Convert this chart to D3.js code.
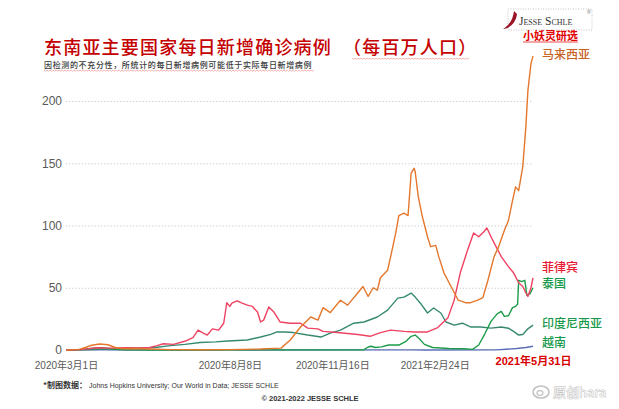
<!DOCTYPE html>
<html><head><meta charset="utf-8">
<script src="https://cdn.jsdelivr.net/npm/d3@7"></script>
<style>body{margin:0;background:#fff}svg{display:block}</style>
</head><body>
<svg id="c" width="619" height="409"></svg>
<script>
// ---------- DATA ----------
const seriesNames = ["越南", "印度尼西亚", "泰国", "菲律宾", "马来西亚"];

const malaysia = [
["2020-03-01",0],["2020-03-13",0.3],["2020-03-20",2],["2020-03-26",3.8],["2020-04-03",4.8],
["2020-04-11",4.2],["2020-04-18",2],["2020-04-25",1],["2020-05-07",1.2],["2020-05-22",0.8],
["2020-06-11",0.3],["2020-07-10",0.2],["2020-08-08",0.3],["2020-09-07",0.8],["2020-09-27",1.5],
["2020-10-06",8],["2020-10-16",18.5],["2020-10-26",26.5],["2020-11-02",24],["2020-11-07",34],
["2020-11-14",30],["2020-11-24",40],["2020-12-01",36],["2020-12-11",46],["2020-12-16",51],
["2020-12-21",43],["2020-12-26",50],["2020-12-30",48],["2021-01-02",58],["2021-01-09",64],
["2021-01-12",75],["2021-01-17",94],["2021-01-20",108],["2021-01-25",110],["2021-01-29",108],
["2021-02-01",142],["2021-02-04",146],["2021-02-05",143],["2021-02-08",123],["2021-02-12",107],
["2021-02-17",91],["2021-02-20",83],["2021-02-25",84],["2021-02-28",75],["2021-03-05",62],
["2021-03-12",51],["2021-03-19",40],["2021-03-26",38],["2021-03-31",38],["2021-04-07",40],
["2021-04-12",42],["2021-04-17",56],["2021-04-23",75],["2021-04-27",82],["2021-05-03",96],
["2021-05-07",104],["2021-05-11",120],["2021-05-14",131],["2021-05-17",128],["2021-05-21",147],
["2021-05-24",179],["2021-05-26",208],["2021-05-29",230],["2021-05-31",236]
];

const philippines = [
["2020-03-01",0],["2020-03-15",0.3],["2020-03-31",1.8],["2020-04-13",1.5],["2020-04-28",1.8],
["2020-05-12",1.6],["2020-05-22",2],["2020-05-29",3.5],["2020-06-04",5],["2020-06-14",4.5],
["2020-06-25",7],["2020-07-03",10],["2020-07-08",16],["2020-07-13",13.6],["2020-07-17",12],
["2020-07-22",17],["2020-07-28",16],["2020-08-02",21.5],["2020-08-05",38],["2020-08-08",35],
["2020-08-10",37.6],["2020-08-15",39.5],["2020-08-20",37.6],["2020-08-25",36],["2020-08-30",35],
["2020-09-04",30.5],["2020-09-07",22.5],["2020-09-10",24],["2020-09-15",34.5],["2020-09-20",30.5],
["2020-09-26",22.5],["2020-10-06",21.5],["2020-10-16",21.5],["2020-10-23",17.6],["2020-11-02",17],
["2020-11-07",15],["2020-11-21",14],["2020-12-11",12.5],["2020-12-23",11],["2021-01-02",14],
["2021-01-12",16],["2021-01-25",15],["2021-02-04",14.5],["2021-02-17",14.5],["2021-02-27",18],
["2021-03-09",26],["2021-03-15",40],["2021-03-21",62],["2021-03-28",80],["2021-04-03",94],
["2021-04-08",91],["2021-04-13",95],["2021-04-16",98],["2021-04-20",91],["2021-04-23",86],
["2021-04-30",75],["2021-05-07",67],["2021-05-12",62],["2021-05-17",54],["2021-05-21",51],
["2021-05-24",46],["2021-05-26",43],["2021-05-29",50],["2021-05-31",58]
];

const indonesia = [
["2020-03-01",0],["2020-03-15",0.1],["2020-04-03",0.5],["2020-04-23",1],["2020-05-12",1.5],
["2020-05-29",2.2],["2020-06-11",3.5],["2020-06-25",4.5],["2020-07-10",6],["2020-07-25",6.5],
["2020-08-06",7.2],["2020-08-25",8],["2020-09-07",10.4],["2020-09-17",12.5],["2020-09-23",14.5],
["2020-10-01",14.5],["2020-10-09",14],["2020-10-23",12],["2020-11-05",10.4],["2020-11-14",13.6],
["2020-11-24",16],["2020-12-07",21.5],["2020-12-17",22.5],["2020-12-30",26.5],["2021-01-09",32],
["2021-01-19",41.7],["2021-01-25",42.5],["2021-02-01",45.7],["2021-02-05",42.5],["2021-02-10",37.6],
["2021-02-17",29.7],["2021-02-23",33.7],["2021-03-02",29.7],["2021-03-07",22.5],["2021-03-15",20],
["2021-03-23",21.5],["2021-03-31",18.5],["2021-04-10",18.5],["2021-04-20",17.6],["2021-04-30",18.5],
["2021-05-07",17.5],["2021-05-12",15],["2021-05-17",12],["2021-05-21",12.5],["2021-05-26",17],
["2021-05-31",20]
];

const thailand = [
["2020-03-01",0],["2020-03-15",0.3],["2020-03-28",1.5],["2020-04-05",1.8],["2020-04-15",0.8],
["2020-04-28",0.1],["2020-06-09",0.05],["2020-12-15",0.1],["2020-12-17",0.3],["2020-12-21",2.4],
["2020-12-24",3],["2020-12-28",2],["2021-01-03",2.5],["2021-01-10",4],["2021-01-20",4],
["2021-01-27",7],["2021-02-01",11],["2021-02-05",12],["2021-02-09",9],["2021-02-14",4.5],
["2021-02-22",2],["2021-03-10",1.2],["2021-03-25",1],["2021-04-02",0.5],["2021-04-08",4],
["2021-04-14",13],["2021-04-20",23],["2021-04-26",29],["2021-04-30",31],["2021-05-03",27],
["2021-05-07",27.5],["2021-05-11",34],["2021-05-14",35],["2021-05-16",37],["2021-05-17",56],
["2021-05-20",55],["2021-05-23",56],["2021-05-25",44],["2021-05-28",45],["2021-05-31",50]
];

const vietnam = [
["2020-03-01",0],["2020-03-25",0.2],["2020-04-10",0.1],["2020-05-01",0],["2020-07-25",0.05],
["2020-08-05",0.1],["2020-08-20",0.05],["2021-01-30",0.1],["2021-02-15",0.05],["2021-04-25",0.1],
["2021-05-05",0.6],["2021-05-15",1.2],["2021-05-24",2],["2021-05-31",3]
];

const xTickDates = ["2020-03-01","2020-08-08","2020-11-16","2021-02-24","2021-05-31"];
const xTickLabels = ["2020年3月1日","2020年8月8日","2020年11月16日","2021年2月24日","2021年5月31日"];
const yTicks = [0, 50, 100, 150, 200];
const gridTicks = [50, 100, 150, 200];

// ---------- DRAWING ----------
const parse = d3.timeParse("%Y-%m-%d");
const svg = d3.select("#c");
const sans = "'Liberation Sans', Arial, 'Noto Sans CJK SC', sans-serif";
const cjk = "'Noto Sans CJK SC', sans-serif";

const x = d3.scaleTime().domain([parse("2020-03-01"), parse("2021-05-31")]).range([66, 533]);
const y = d3.scaleLinear().domain([0, 200]).range([350, 101]);

// gridlines
const grid = svg.append("g").attr("transform", "translate(66,0)")
  .call(d3.axisLeft(y).tickValues(gridTicks).tickSize(-467).tickFormat(""));
grid.select(".domain").remove();
grid.selectAll("line").attr("stroke", "#c8c8c8").attr("stroke-dasharray", "1.2,2").attr("stroke-width", 1);

// y axis labels
const ya = svg.append("g").attr("transform", "translate(66,0)")
  .call(d3.axisLeft(y).tickValues(yTicks).tickSize(0).tickPadding(4));
ya.select(".domain").remove();
ya.selectAll("text").attr("fill", "#595959").style("font-family", sans).style("font-size", "12px");

// x axis labels
const xa = svg.append("g").attr("transform", "translate(0,350)")
  .call(d3.axisBottom(x).tickValues(xTickDates.map(parse)).tickSize(0).tickPadding(12)
    .tickFormat((d, i) => xTickLabels[i]));
xa.select(".domain").remove();
xa.selectAll("text").attr("fill", "#595959").style("font-family", sans).style("font-size", "10px");
xa.selectAll("text").filter((d, i) => i === xTickLabels.length - 1)
  .attr("fill", "#d90000").style("font-size", "11px").style("font-weight", "bold").attr("y", 7);

// lines
const line = d3.line().x(d => x(parse(d[0]))).y(d => y(d[1]));
const seriesData = [vietnam, indonesia, thailand, philippines, malaysia];
const colors = ["#5a6db5", "#36896f", "#1c9c4a", "#ee4262", "#e5772c"];
svg.append("g").selectAll("path").data(seriesData).join("path")
  .attr("d", line).attr("fill", "none")
  .attr("stroke", (d, i) => colors[i]).attr("stroke-width", 1.4).attr("stroke-linejoin", "round");

// right-side labels
const labelColors = ["#16994a", "#16994a", "#16994a", "#e81a33", "#c7621f"];
const labelY = [347, 328, 288, 272, 59];
svg.append("g").selectAll("text").data(seriesNames).join("text")
  .attr("x", 542).attr("y", (d, i) => labelY[i])
  .attr("fill", (d, i) => labelColors[i])
  .style("font-family", cjk).style("font-size", "12px").style("font-weight", 500)
  .text(d => d);

// title
svg.append("text").attr("x", 44).attr("y", 54).attr("fill", "#c40000")
  .style("font-family", cjk).style("font-size", "18px").style("font-weight", 500).style("letter-spacing", "1.2px")
  .text("东南亚主要国家每日新增确诊病例");
svg.append("text").attr("x", 343).attr("y", 54).attr("fill", "#c40000")
  .style("font-family", cjk).style("font-size", "18px").style("font-weight", 500).style("letter-spacing", "1.2px")
  .text("（每百万人口）");
svg.append("text").attr("x", 44).attr("y", 68).attr("fill", "#3a3a3a")
  .style("font-family", cjk).style("font-size", "8px").style("font-weight", 500).style("letter-spacing", "0.65px")
  .text("因检测的不充分性，所统计的每日新增病例可能低于实际每日新增病例");

// wavy spell-check underlines
function wavy(x0, x1, yy) {
  let p = `M${x0},${yy}`;
  for (let xx = x0, k = 0; xx < x1; xx += 1.5, k++) p += `L${xx + 1.5},${yy + (k % 2 ? 0 : 1.2)}`;
  svg.append("path").attr("d", p).attr("fill", "none").attr("stroke", "#f08080").attr("stroke-width", 0.6);
}
wavy(44, 313, 70);
wavy(352, 468, 58);

// logo
svg.append("rect").attr("x", 508).attr("y", 9).attr("width", 84).attr("height", 21)
  .attr("fill", "none").attr("stroke", "#9a9a9a").attr("stroke-width", 0.6).attr("stroke-dasharray", "1,1.5");
svg.append("path").attr("d", "M514,11 C513,18 511,24 503,29 C511,28 516,22 517,14 Z").attr("fill", "#9b1426");
svg.append("text").attr("x", 519).attr("y", 24.5).attr("fill", "#333")
  .style("font-family", "'Liberation Serif', 'DejaVu Serif', serif")
  .style("font-size", "11.5px").style("font-variant", "small-caps").text("Jesse Schle");
svg.append("text").attr("x", 587).attr("y", 14).attr("fill", "#666").style("font-size", "5px").style("font-family", sans).text("®");
svg.append("text").attr("x", 523).attr("y", 40).attr("fill", "#e00000")
  .style("font-family", cjk).style("font-size", "11px").style("font-weight", "bold").text("小妖灵研选");
svg.append("line").attr("x1", 523).attr("x2", 578).attr("y1", 42).attr("y2", 42).attr("stroke", "#e00000").attr("stroke-width", 0.7);

// footer
const ft = svg.append("text").attr("x", 43).attr("y", 388).attr("fill", "#333");
ft.append("tspan").style("font-family", cjk).style("font-size", "8px").style("font-weight", "bold").text("*制图数据：");
ft.append("tspan").style("font-family", sans).style("font-size", "7px").text(" Johns Hopkins University; Our World in Data; JESSE SCHLE");
svg.append("text").attr("x", 310).attr("y", 401).attr("text-anchor", "middle").attr("fill", "#333")
  .style("font-family", sans).style("font-size", "7.5px").style("font-weight", "bold").text("© 2021-2022 JESSE SCHLE");

// watermark
const wm = svg.append("g").attr("opacity", 0.9);
wm.append("ellipse").attr("cx", 541).attr("cy", 392).attr("rx", 8).attr("ry", 6)
  .attr("fill", "none").attr("stroke", "#bdbdbd").attr("stroke-width", 1.6);
wm.append("ellipse").attr("cx", 540).attr("cy", 393).attr("rx", 3).attr("ry", 2.3)
  .attr("fill", "none").attr("stroke", "#bdbdbd").attr("stroke-width", 1.2);
wm.append("text").attr("x", 553).attr("y", 397).attr("fill", "#f4f4f4").attr("stroke", "#b5b5b5")
  .attr("stroke-width", 0.8).style("paint-order", "stroke")
  .style("font-family", cjk).style("font-size", "13px").text("原创hara");
</script>
</body></html>
